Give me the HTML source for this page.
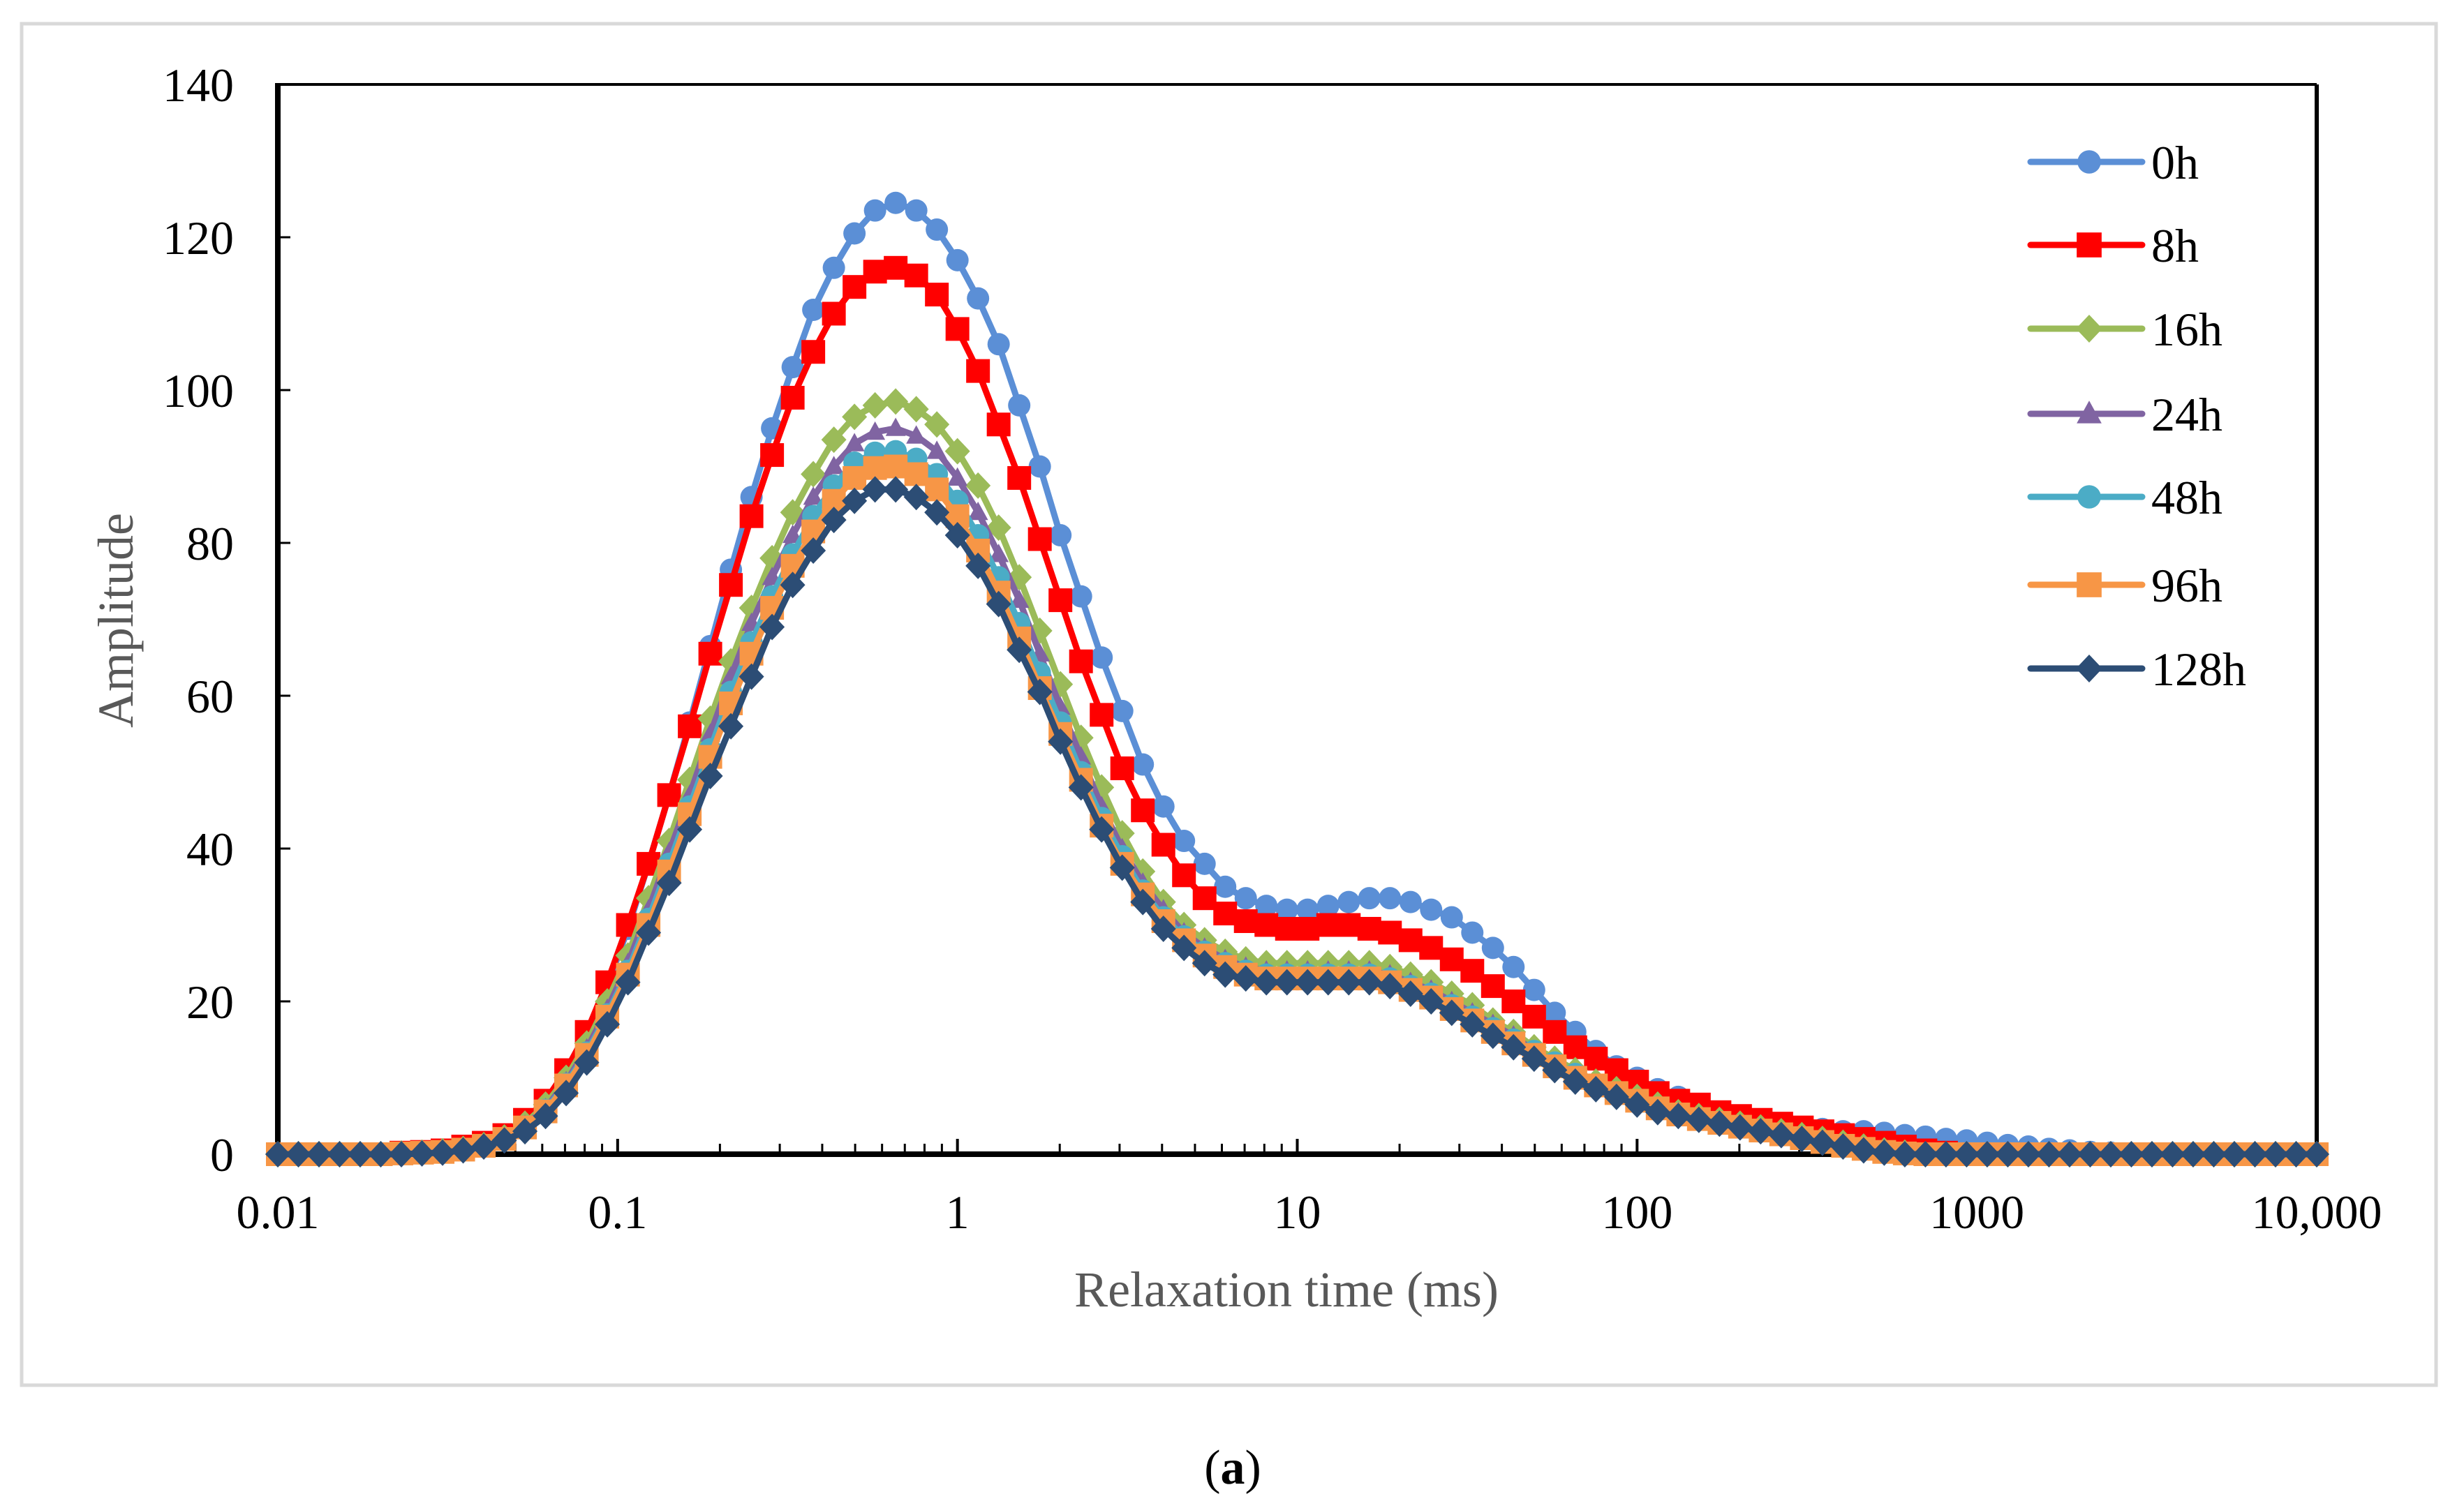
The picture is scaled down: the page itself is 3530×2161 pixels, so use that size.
<!DOCTYPE html>
<html><head><meta charset="utf-8"><style>
html,body{margin:0;padding:0;background:#fff;}
svg{display:block;font-family:"Liberation Serif",serif;}
</style></head><body>
<svg id="chart" width="3530" height="2161" viewBox="0 0 3530 2161" xmlns="http://www.w3.org/2000/svg">
<rect x="31" y="34" width="3459" height="1951" fill="#fff" stroke="#d9d9d9" stroke-width="5"/>
<g id="plot"></g>
<text transform="translate(190,889) rotate(-90)" text-anchor="middle" font-size="72" fill="#595959">Amplitude</text>
<text x="1843" y="1872" text-anchor="middle" font-size="72" fill="#595959">Relaxation time (ms)</text>
<text x="1766" y="2126" text-anchor="middle" font-size="70" fill="#000">(<tspan font-weight="bold">a</tspan>)</text>
</svg>
<script>
const seriesNames = ["0h","8h","16h","24h","48h","96h","128h"];
const xTickLabels = ["0.01","0.1","1","10","100","1000","10,000"];
const xTickValues = [0.01,0.1,1,10,100,1000,10000];
const yTickValues = [0,20,40,60,80,100,120,140];
const s0h = [0,0,0,0,0,0,0.2,0.3,0.5,0.8,
1.5,2.5,4.5,7,11,16,22,29.5,38,47,
56.5,66.5,76.5,86,95,103,110.5,116,120.5,123.5,
124.5,123.5,121,117,112,106,98,90,81,73,
65,58,51,45.5,41,38,35,33.5,32.5,32,
32,32.5,33,33.5,33.5,33,32,31,29,27,
24.5,21.5,18.5,16,13.5,11.5,10,8.5,7.5,6.5,
5.5,5,4.5,4,3.5,3.3,3,3,2.8,2.5,
2.3,2,1.8,1.5,1.2,1,0.7,0.5,0.3,0.2,
0,0,0,0,0,0,0,0,0,0];
const s8h = [0,0,0,0,0,0,0.2,0.3,0.5,1,
1.5,2.5,4.5,7,11,16,22.5,30,38,47,
56,65.5,74.5,83.5,91.5,99,105,110,113.5,115.5,
116,115,112.5,108,102.5,95.5,88.5,80.5,72.5,64.5,
57.5,50.5,45,40.5,36.5,33.5,31.5,30.5,30,29.5,
29.5,30,30,29.5,29,28,27,25.5,24,22,
20,18,16,14,12.5,11,9.5,8,7,6.5,
5.5,5,4.5,4,3.5,3,2.5,2,1.5,1,
0.5,0.2,0,0,0,0,0,0,0,0,
0,0,0,0,0,0,0,0,0,0];
const s16h = [0,0,0,0,0,0,0.1,0.2,0.4,0.7,
1.2,2.2,4,6.5,10,14.5,20,26,33.5,41,
49,57,64.5,71.5,78,84,89,93.5,96.5,98,
98.5,97.5,95.5,92,87.5,82,75.5,68.5,61.5,54.5,
48,42,37,33,30,28,26.5,25.5,25,25,
25,25,25,25,24.5,23.5,22.5,21,19.5,17.5,
16,14,12.5,11,9.5,8.5,7.5,6.5,5.5,5,
4.5,4,3.5,3,2.5,2,1.5,1,0.5,0.2,
0,0,0,0,0,0,0,0,0,0,
0,0,0,0,0,0,0,0,0,0];
const s24h = [0,0,0,0,0,0,0.1,0.2,0.4,0.7,
1.2,2.1,3.8,6,9.5,13.8,19,25,32,39.5,
47,55,62.5,69.5,75.5,81,86,90,93,94.5,
95,94,92,88.5,84,78.5,72.5,65.5,58.5,52,
45.5,40,35.5,32,29,27,25.5,24.5,24,24,
24,24,24,24,23.5,22.5,21.5,20,18.5,17,
15.5,13.5,12,10.5,9,8,7,6,5.5,4.8,
4.3,3.8,3.3,2.8,2.3,1.8,1.3,0.8,0.4,0.2,
0,0,0,0,0,0,0,0,0,0,
0,0,0,0,0,0,0,0,0,0];
const s48h = [0,0,0,0,0,0,0.1,0.2,0.4,0.7,
1.1,2,3.6,5.8,9.2,13.3,18.3,24,30.8,38,
45.5,53,60.5,67,73,78.5,83.5,87.5,90.5,91.8,
92,91,89,85.5,81,75.5,69.5,63,56.5,50,
44,39,34.5,31,28.5,26.5,25,24,23.5,23.5,
23.5,23.5,23.5,23.5,23,22,21,19.5,18,16.5,
15,13.5,12,10.5,9,8,7,6,5.3,4.7,
4.2,3.7,3.2,2.7,2.2,1.7,1.2,0.8,0.4,0.2,
0,0,0,0,0,0,0,0,0,0,
0,0,0,0,0,0,0,0,0,0];
const s96h = [0,0,0,0,0,0,0.1,0.2,0.3,0.6,
1.1,2,3.5,5.6,9,13,18,23.5,30,37,
44.5,52,59,65.5,71.5,77,81.5,85.5,88.5,89.8,
90,89,87,83.5,79,73.5,67.5,61,55,49,
43,38,34,30.5,28,26,24.5,23.5,23,23,
23,23,23,23,22.5,21.5,20.5,19,17.5,16,
14.5,13,11.5,10,9,8,7,6,5.2,4.6,
4.1,3.6,3.1,2.6,2.1,1.6,1.1,0.7,0.3,0.1,
0,0,0,0,0,0,0,0,0,0,
0,0,0,0,0,0,0,0,0,0];
const s128h = [0,0,0,0,0,0,0,0.1,0.2,0.5,
1,1.8,3,5,8,12,17,22.5,29,35.5,
42.5,49.5,56,62.5,69,74.5,79,83,85.5,87,
87,86,84,81,77,72,66,60.5,54,48,
42.5,37.5,33,29.5,27,25,23.5,23,22.5,22.5,
22.5,22.5,22.5,22.5,22,21,20,18.5,17,15.5,
14,12.5,11,9.5,8.5,7.5,6.5,5.5,5,4.5,
4,3.5,3,2.5,2,1.5,1,0.5,0.2,0,
0,0,0,0,0,0,0,0,0,0,
0,0,0,0,0,0,0,0,0,0];
const seriesValues = [s0h,s8h,s16h,s24h,s48h,s96h,s128h];
const xMinLog = -2, xMaxLog = 4, nPoints = 100;

const NS = "http://www.w3.org/2000/svg";
const plot = document.getElementById("plot");
const L = 398, R = 3319, T = 121, B = 1654;
function xScale(v){ return L + (Math.log10(v) - xMinLog) / (xMaxLog - xMinLog) * (R - L); }
function yScale(v){ return B - v / 140 * (B - T); }
function timeAt(i){ return Math.pow(10, xMinLog + (xMaxLog - xMinLog) * i / (nPoints - 1)); }
function mk(tag, attrs, parent){ const e = document.createElementNS(NS, tag); for (const k in attrs) e.setAttribute(k, attrs[k]); (parent||plot).appendChild(e); return e; }

const colors = ["#5b8fd6","#ff0000","#9bbb59","#8064a2","#4bacc6","#f79646","#2c4d75"];
const shapes = ["circle","square","diamond","triangle","circle","square","diamond"];
function marker(shape, cx, cy, color, parent, sc){
  sc = sc || 1; let e;
  if (shape === "circle") e = mk("circle",{cx:cx,cy:cy,r:16*sc,fill:color},parent);
  else if (shape === "square") e = mk("rect",{x:cx-17*sc,y:cy-17*sc,width:34*sc,height:34*sc,fill:color},parent);
  else if (shape === "diamond") e = mk("polygon",{points:`${cx},${cy-19*sc} ${cx+18*sc},${cy} ${cx},${cy+19*sc} ${cx-18*sc},${cy}`,fill:color},parent);
  else e = mk("polygon",{points:`${cx},${cy-18*sc} ${cx+17*sc},${cy+13*sc} ${cx-17*sc},${cy+13*sc}`,fill:color},parent);
  return e;
}

const frame = mk("g",{});


mk("line",{x1:L,y1:T,x2:R,y2:T,stroke:"#000","stroke-width":4},frame);
mk("line",{x1:R,y1:T,x2:R,y2:B,stroke:"#000","stroke-width":6},frame);
mk("line",{x1:L,y1:T-2,x2:L,y2:B+4,stroke:"#000","stroke-width":8},frame);
mk("line",{x1:L-4,y1:B,x2:R+3,y2:B,stroke:"#000","stroke-width":8},frame);

yTickValues.forEach(v => {
  const y = yScale(v);
  if (v > 0 && v < 140) mk("line",{x1:L,y1:y,x2:L+18,y2:y,stroke:"#000","stroke-width":3},frame);
  const t = mk("text",{x:335,y:y+24,"text-anchor":"end","font-size":68,fill:"#000"});
  t.textContent = v;
  
  
});
xTickValues.forEach((v, k) => {
  const x = xScale(v);
  if (k < xTickValues.length - 1) {
    for (let m = 2; m <= 9; m++) {
      const xm = xScale(v * m);
      mk("line",{x1:xm,y1:B,x2:xm,y2:B-15,stroke:"#000","stroke-width":3},frame);
    }
  }
  mk("line",{x1:x,y1:B,x2:x,y2:B-22,stroke:"#000","stroke-width":4},frame);
  const t = mk("text",{x:x,y:1760,"text-anchor":"middle","font-size":68,fill:"#000"});
  t.textContent = xTickLabels[k];
  
  
});

seriesValues.forEach((vals, s) => {
  const g = mk("g",{});
  
  
  const pts = vals.map((v, i) => xScale(timeAt(i)).toFixed(1) + "," + yScale(v).toFixed(1)).join(" ");
  mk("polyline",{points:pts,fill:"none",stroke:colors[s],"stroke-width":9,"stroke-linejoin":"round"},g);
  vals.forEach((v, i) => {
    const m = marker(shapes[s], xScale(timeAt(i)), yScale(v), colors[s], g, s===3?0.85:1);
    
    
  });
});

const legendRows = [232,351,471,593,712,838,958];
const leg = mk("g",{});


seriesNames.forEach((n, s) => {
  const y = legendRows[s];
  const e = mk("g",{},leg);
  
  
  mk("line",{x1:2909,y1:y,x2:3069,y2:y,stroke:colors[s],"stroke-width":9,"stroke-linecap":"round"},e);
  marker(shapes[s], 2993, y, colors[s], e, 1.05);
  const t = mk("text",{x:3082,y:y+24,"font-size":68,fill:"#000"},e);
  t.textContent = n;
});
</script>
</body></html>
